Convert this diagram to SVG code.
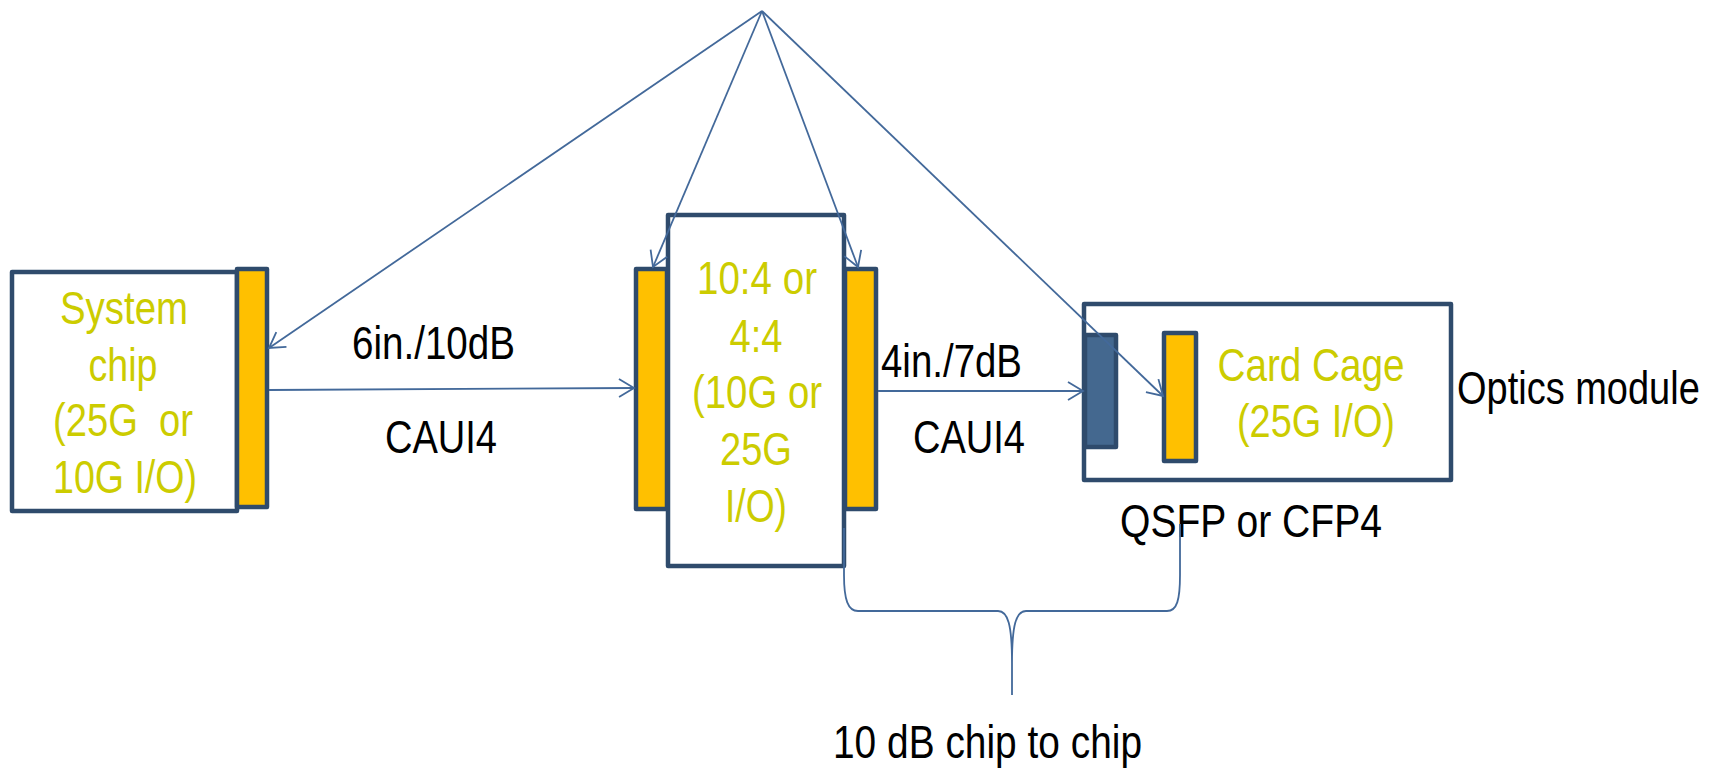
<svg xmlns="http://www.w3.org/2000/svg" width="1711" height="770" viewBox="0 0 1711 770">
<defs>
<style>
.box{fill:#fff;stroke:#2F4B6C;stroke-width:4.5;stroke-linejoin:round}
.bar{fill:#FFC000;stroke:#2F4B6C;stroke-width:4.5;stroke-linejoin:round}
.dbar{fill:#44688F;stroke:#2F4B6C;stroke-width:4.5;stroke-linejoin:round}
.conn{fill:none;stroke:#43699A;stroke-width:1.8}
.yt{font-family:"Liberation Sans",Arial,sans-serif;font-size:46px;fill:#CCCC00;text-anchor:middle}
.bt{font-family:"Liberation Sans",Arial,sans-serif;font-size:46px;fill:#000}
</style>
<marker id="arr" markerUnits="userSpaceOnUse" markerWidth="30" markerHeight="30" viewBox="-20 -15 30 30" refX="0" refY="0" orient="auto">
<path d="M-15,-9 L0,0 L-15,9" fill="none" stroke="#43699A" stroke-width="1.8"/>
</marker>
</defs>
<rect width="1711" height="770" fill="#fff"/>

<g id="system-chip">
<rect class="box" x="12" y="272" width="225" height="239"/>
<rect class="bar" x="237" y="269" width="30" height="238"/>
<text class="yt" x="124" y="324" textLength="128" lengthAdjust="spacingAndGlyphs">System</text>
<text class="yt" x="123" y="381" textLength="69" lengthAdjust="spacingAndGlyphs">chip</text>
<text class="yt" x="123" y="436" textLength="140" lengthAdjust="spacingAndGlyphs" style="white-space:pre">(25G  or</text>
<text class="yt" x="125" y="493" textLength="144" lengthAdjust="spacingAndGlyphs">10G I/O)</text>
</g>

<g id="mux-chip">
<rect class="box" x="668" y="215" width="176" height="351"/>
<rect class="bar" x="636" y="269" width="31" height="240"/>
<rect class="bar" x="845" y="269" width="31" height="240"/>
<text class="yt" x="757" y="294" textLength="120" lengthAdjust="spacingAndGlyphs">10:4 or</text>
<text class="yt" x="756" y="352" textLength="53" lengthAdjust="spacingAndGlyphs">4:4</text>
<text class="yt" x="757" y="408" textLength="130" lengthAdjust="spacingAndGlyphs">(10G or</text>
<text class="yt" x="756" y="465" textLength="72" lengthAdjust="spacingAndGlyphs">25G</text>
<text class="yt" x="756" y="522" textLength="62" lengthAdjust="spacingAndGlyphs">I/O)</text>
</g>

<g id="optics-module">
<rect class="box" x="1084" y="304" width="367" height="176"/>
<rect class="dbar" x="1085" y="335" width="31" height="112"/>
<rect class="bar" x="1164" y="333" width="32" height="128"/>
<text class="yt" x="1311" y="381" textLength="187" lengthAdjust="spacingAndGlyphs">Card Cage</text>
<text class="yt" x="1316" y="437" textLength="158" lengthAdjust="spacingAndGlyphs">(25G I/O)</text>
</g>

<g id="labels">
<text class="bt" x="352" y="359" textLength="163" lengthAdjust="spacingAndGlyphs">6in./10dB</text>
<text class="bt" x="385" y="453" textLength="112" lengthAdjust="spacingAndGlyphs">CAUI4</text>
<text class="bt" x="881" y="377" textLength="141" lengthAdjust="spacingAndGlyphs">4in./7dB</text>
<text class="bt" x="913" y="453" textLength="112" lengthAdjust="spacingAndGlyphs">CAUI4</text>
<text class="bt" x="0" y="0" transform="translate(1457,404) scale(0.826,1)">Optics module</text>
<text class="bt" x="1120" y="537" textLength="262" lengthAdjust="spacingAndGlyphs">QSFP or CFP4</text>
<text class="bt" x="833" y="758" textLength="309" lengthAdjust="spacingAndGlyphs">10 dB chip to chip</text>
</g>

<g id="connectors">
<path class="conn" d="M762,11 L269,348" marker-end="url(#arr)"/>
<path class="conn" d="M762,11 L653,267" marker-end="url(#arr)"/>
<path class="conn" d="M762,11 L858,267" marker-end="url(#arr)"/>
<path class="conn" d="M762,11 L1163,396" marker-end="url(#arr)"/>
<path class="conn" d="M269,390 L634,388" marker-end="url(#arr)"/>
<path class="conn" d="M878,391 L1083,391" marker-end="url(#arr)"/>
<path class="conn" d="M844,528 L844,575 C844,600 848,611 858,611 L998,611 C1008,611 1012,625 1012,663 L1012,695 L1012,663 C1012,625 1016,611 1026,611 L1167,611 C1177,611 1180,600 1180,575 L1180,524"/>
</g>
</svg>
